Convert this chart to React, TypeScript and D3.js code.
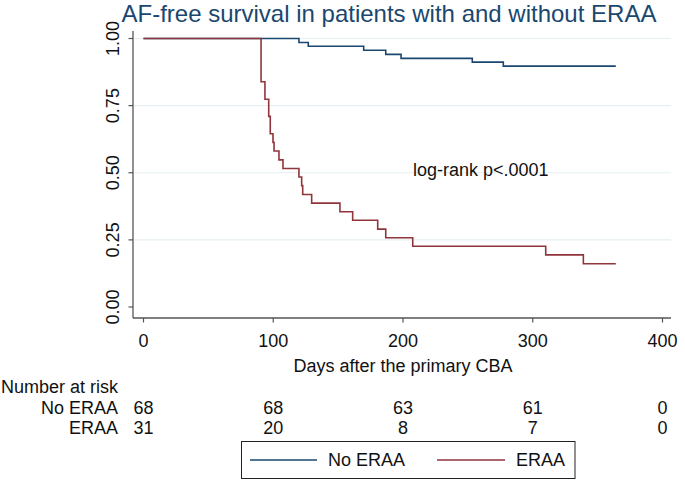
import React from "react";
import * as d3 from "d3";

// ---- Data ----
const noEraaTimes = [0, 119.8, 127, 169.7, 186.7, 198.5, 253.4, 277.3, 364];
const noEraaSurv = [1, 0.985, 0.971, 0.956, 0.941, 0.926, 0.912, 0.897, 0.897];

const eraaTimes = [0, 90.6, 93.6, 96.5, 97.7, 99.8, 100.6, 104.4, 107.5, 119.8, 121.9, 122.7, 129.6, 151.4, 161.2, 180.5, 186.7, 207.5, 310, 339, 364];
const eraaSurv = [1, 0.839, 0.774, 0.71, 0.645, 0.613, 0.581, 0.548, 0.516, 0.484, 0.452, 0.419, 0.387, 0.355, 0.323, 0.29, 0.258, 0.226, 0.194, 0.161, 0.161];

const xTicks = [0, 100, 200, 300, 400];
const yTicks = [0, 0.25, 0.5, 0.75, 1];
const yTickLabels = ["0.00", "0.25", "0.50", "0.75", "1.00"];
const gridValues = [0.25, 0.5, 0.75, 1];

const riskTimes = [0, 100, 200, 300, 400];
const noEraaRisk = [68, 68, 63, 61, 0];
const eraaRisk = [31, 20, 8, 7, 0];

const seriesNames = ["No ERAA", "ERAA"];

const titleText = "AF-free survival in patients with and without ERAA";
const xTitle = "Days after the primary CBA";
const annotation = "log-rank p<.0001";

const BLUE = "#1a476f";
const RED = "#90353b";
const FONT = "'Liberation Sans', Arial, Helvetica, sans-serif";

export default function App() {
  const x = d3.scaleLinear().domain([0, 400]).range([143.5, 662.5]);
  const y = d3.scaleLinear().domain([0, 1]).range([307, 38.5]);

  const line = d3
    .line<[number, number]>()
    .x((d) => x(d[0]))
    .y((d) => y(d[1]))
    .curve(d3.curveStepAfter);

  const bluePts = noEraaTimes.map((t, i) => [t, noEraaSurv[i]] as [number, number]);
  const redPts = eraaTimes.map((t, i) => [t, eraaSurv[i]] as [number, number]);

  const axisLeft = 133;
  const axisBottom = 318;
  const plotRight = 671;
  const plotTop = 31;
  const axisColor = "#555";
  const fs = 18;

  return (
    <svg
      width={685}
      height={481}
      style={{ position: "absolute", left: 0, top: 0, background: "#fff" }}
      fontFamily={FONT}
    >
      <rect x={0} y={0} width={685} height={481} fill="#fff" />
      {/* Title */}
      <text x={121.5} y={22} fontSize={24} fill={BLUE}>
        {titleText}
      </text>

      {/* Gridlines */}
      {gridValues.map((v) => (
        <line key={v} x1={axisLeft} x2={plotRight} y1={y(v)} y2={y(v)} stroke="#e6eff1" strokeWidth={1.2} />
      ))}

      {/* Curves */}
      <path d={line(bluePts) || ""} fill="none" stroke={BLUE} strokeWidth={1.6} />
      <path d={line(redPts) || ""} fill="none" stroke={RED} strokeWidth={1.6} />

      {/* Y axis */}
      <line x1={axisLeft} x2={axisLeft} y1={plotTop} y2={axisBottom} stroke={axisColor} strokeWidth={1.3} />
      {yTicks.map((v, i) => (
        <g key={v}>
          <line x1={axisLeft - 4.5} x2={axisLeft} y1={y(v)} y2={y(v)} stroke={axisColor} strokeWidth={1.2} />
          <text
            transform={`translate(${118.5},${y(v)}) rotate(-90)`}
            textAnchor="middle"
            fontSize={fs}
            fill="#111"
          >
            {yTickLabels[i]}
          </text>
        </g>
      ))}

      {/* X axis */}
      <line x1={axisLeft} x2={plotRight} y1={axisBottom} y2={axisBottom} stroke={axisColor} strokeWidth={1.3} />
      {xTicks.map((v) => (
        <g key={v}>
          <line x1={x(v)} x2={x(v)} y1={axisBottom} y2={axisBottom + 4.5} stroke={axisColor} strokeWidth={1.2} />
          <text x={x(v)} y={347} textAnchor="middle" fontSize={fs} fill="#111">
            {v}
          </text>
        </g>
      ))}
      <text x={x(200)} y={372} textAnchor="middle" fontSize={fs} fill="#111">
        {xTitle}
      </text>

      {/* Annotation */}
      <text x={413} y={176} fontSize={fs} fill="#111">
        {annotation}
      </text>

      {/* Number at risk */}
      <text x={1} y={393} fontSize={fs} fill="#111">
        Number at risk
      </text>
      <text x={118} y={414} textAnchor="end" fontSize={fs} fill="#111">
        {seriesNames[0]}
      </text>
      <text x={118} y={434} textAnchor="end" fontSize={fs} fill="#111">
        {seriesNames[1]}
      </text>
      {riskTimes.map((t, i) => (
        <g key={t}>
          <text x={x(t)} y={414} textAnchor="middle" fontSize={fs} fill="#111">
            {noEraaRisk[i]}
          </text>
          <text x={x(t)} y={434} textAnchor="middle" fontSize={fs} fill="#111">
            {eraaRisk[i]}
          </text>
        </g>
      ))}

      {/* Legend */}
      <rect x={241.5} y={441.5} width={333.5} height={37} fill="#fff" stroke="#222" strokeWidth={1} />
      <line x1={250} x2={317} y1={460} y2={460} stroke={BLUE} strokeWidth={1.6} />
      <text x={328} y={466} fontSize={fs} fill="#111">
        {seriesNames[0]}
      </text>
      <line x1={437} x2={505} y1={460} y2={460} stroke={RED} strokeWidth={1.6} />
      <text x={516} y={466} fontSize={fs} fill="#111">
        {seriesNames[1]}
      </text>
    </svg>
  );
}
